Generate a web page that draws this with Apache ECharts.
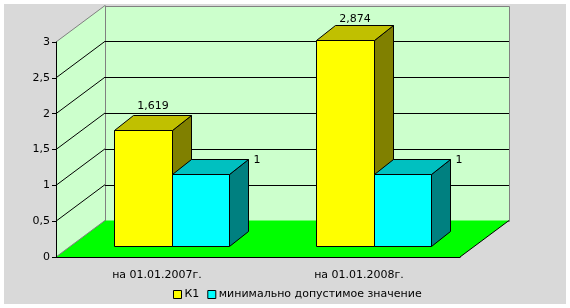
<!DOCTYPE html>
<html><head><meta charset="utf-8">
<script src="https://cdn.jsdelivr.net/npm/echarts@6/dist/echarts.min.js"></script>
<style>html,body{margin:0;padding:0;background:#fff}#c{width:570px;height:308px}</style>
</head><body><div id="c"></div>
<script>
const categories = ['на 01.01.2007г.', 'на 01.01.2008г.'];
const seriesNames = ['К1', 'минимально допустимое значение'];
const k1Values = [1.619, 2.874];
const minValues = [1, 1];
const yMin = 0, yMax = 3, yStep = 0.5;

const FONT = 'DejaVu Sans';
const D = [49, -36.5];          // wall depth offset (px)
const F = [14.5, -11];          // bar front-plane offset (px)
const B = [19, -15];            // bar depth (px)
const BAR_FRAC = 0.287;
const faces = [
  { front: '#FFFF00', top: '#C0C000', side: '#808000' },
  { front: '#00FFFF', top: '#00C0C0', side: '#008080' }
];
const fmt = v => String(v).replace('.', ',');
const r = v => Math.round(v) + 0.5;

function frameRender(params, api) {
  const cs = params.coordSys;
  const L = cs.x, R = cs.x + cs.width;
  const y = v => api.coord([0, v])[1];
  const y0 = y(yMin), yT = y(yMax);
  const children = [];
  children.push({ type: 'rect', shape: { x: r(L + D[0]), y: r(yT + D[1]), width: Math.round(R - L), height: Math.round(y0 - yT) },
    style: { fill: '#CCFFCC', stroke: '#808080', lineWidth: 1 } });
  children.push({ type: 'polygon', shape: { points: [[L, y0], [L, yT], [L + D[0], yT + D[1]], [L + D[0], y0 + D[1]]] },
    style: { fill: '#CCFFCC' } });
  children.push({ type: 'polygon', shape: { points: [[L, y0], [R, y0], [R + D[0], y0 + D[1]], [L + D[0], y0 + D[1]]] },
    style: { fill: '#00FF00' } });
  children.push({ type: 'line', shape: { x1: L, y1: y0, x2: L + D[0], y2: y0 + D[1] }, style: { stroke: '#808080', lineWidth: 1 } });
  children.push({ type: 'line', shape: { x1: R, y1: y0, x2: R + D[0], y2: y0 + D[1] }, style: { stroke: '#000', lineWidth: 1 } });
  children.push({ type: 'line', shape: { x1: L, y1: yT, x2: L + D[0], y2: yT + D[1] }, style: { stroke: '#808080', lineWidth: 1 } });
  children.push({ type: 'line', shape: { x1: r(L + D[0]), y1: yT + D[1], x2: r(L + D[0]), y2: y0 + D[1] }, style: { stroke: '#808080', lineWidth: 1 } });
  for (let v = yMin + yStep; v < yMax - 1e-9; v += yStep) {
    const yy = y(v);
    children.push({ type: 'line', shape: { x1: L, y1: yy, x2: L + D[0], y2: yy + D[1] }, style: { stroke: '#000', lineWidth: 1 } });
    children.push({ type: 'line', shape: { x1: L + D[0], y1: r(yy + D[1]), x2: R + D[0], y2: r(yy + D[1]) }, style: { stroke: '#000', lineWidth: 1 } });
  }
  return { type: 'group', children };
}

function barRender(s) {
  return function (params, api) {
    const i = api.value(0), v = api.value(1);
    const c = api.coord([i, v]), c0 = api.coord([i, 0]);
    const w = api.size([1, 0])[0] * BAR_FRAC;
    const xc = c[0] + F[0];
    const x1 = Math.round(s === 0 ? xc - w : xc) + 0.5, x2 = Math.round(s === 0 ? xc : xc + w) + 0.5;
    const yTop = Math.round(c[1] + F[1]) + 0.5, yBot = Math.round(c0[1] + F[1]) + 0.5;
    const st = { stroke: '#000', lineWidth: 1 };
    const f = faces[s];
    const children = [
      { type: 'polygon', shape: { points: [[x2, yTop], [x2 + B[0], yTop + B[1]], [x2 + B[0], yBot + B[1]], [x2, yBot]] }, style: Object.assign({ fill: f.side }, st) },
      { type: 'polygon', shape: { points: [[x1, yTop], [x1 + B[0], yTop + B[1]], [x2 + B[0], yTop + B[1]], [x2, yTop]] }, style: Object.assign({ fill: f.top }, st) },
      { type: 'rect', shape: { x: x1, y: yTop, width: x2 - x1, height: yBot - yTop }, style: Object.assign({ fill: f.front }, st) }
    ];
    if (s === 0) {
      const ly = Math.max(yTop + B[1] - 4, 25);
      children.push({ type: 'text', style: { text: fmt(v), x: (x1 + x2) / 2 + B[0] / 2, y: ly, align: 'center', verticalAlign: 'bottom', font: '11px "' + FONT + '"', fill: '#000' } });
    } else {
      children.push({ type: 'text', style: { text: fmt(v), x: x2 + B[0] + 5, y: yTop + B[1] + 1, align: 'left', verticalAlign: 'middle', font: '11px "' + FONT + '"', fill: '#000' } });
    }
    return { type: 'group', children };
  };
}

const chart = echarts.init(document.getElementById('c'), null, { renderer: 'canvas' });
chart.setOption({
  animation: false,
  backgroundColor: '#fff',
  textStyle: { fontFamily: FONT },
  graphic: [{ type: 'rect', z: -10, silent: true, shape: { x: 4, y: 4, width: 562, height: 300 }, style: { fill: '#D9D9D9' } }],
  grid: { left: 56, right: 110, top: 42, bottom: 51 },
  xAxis: {
    type: 'category', data: categories, z: 5,
    axisLine: { lineStyle: { color: '#000', width: 1 } },
    axisTick: { length: 4, lineStyle: { color: '#000' } },
    axisLabel: { color: '#000', fontSize: 11, fontFamily: FONT, margin: 13 },
    splitLine: { show: false }
  },
  yAxis: {
    type: 'value', min: yMin, max: yMax, interval: yStep, z: 5,
    axisLine: { show: true, lineStyle: { color: '#000', width: 1 } },
    axisTick: { show: true, length: 4, lineStyle: { color: '#000' } },
    axisLabel: { color: '#000', fontSize: 11, fontFamily: FONT, margin: 6, formatter: fmt },
    splitLine: { show: false }
  },
  legend: {
    left: 173, top: 289, itemWidth: 8, itemHeight: 8, itemGap: 8, padding: 0,
    textStyle: { color: '#000', fontSize: 11, fontFamily: FONT, padding: [0, 0, 0, -2] },
    data: [
      { name: seriesNames[0], icon: 'rect', itemStyle: { color: faces[0].front, borderColor: '#000', borderWidth: 1 } },
      { name: seriesNames[1], icon: 'rect', itemStyle: { color: faces[1].front, borderColor: '#000', borderWidth: 1 } }
    ]
  },
  series: [
    { type: 'custom', name: 'frame', z: 1, silent: true, renderItem: frameRender, data: [[0, 0]] },
    { type: 'custom', name: seriesNames[0], z: 2, renderItem: barRender(0), itemStyle: { color: faces[0].front, borderColor: '#000' },
      data: k1Values.map((v, i) => [i, v]) },
    { type: 'custom', name: seriesNames[1], z: 2, renderItem: barRender(1), itemStyle: { color: faces[1].front, borderColor: '#000' },
      data: minValues.map((v, i) => [i, v]) }
  ]
});
</script></body></html>
